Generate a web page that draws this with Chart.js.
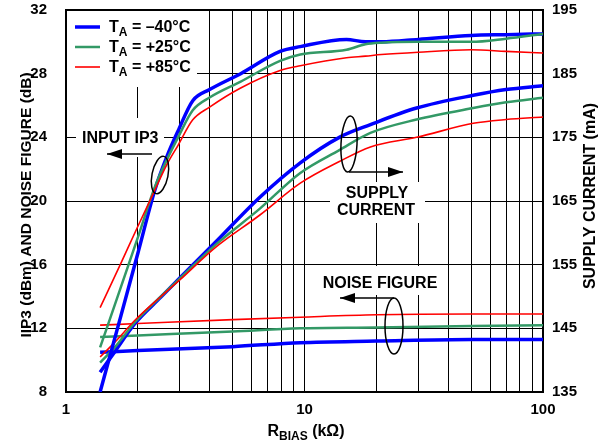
<!DOCTYPE html>
<html>
<head>
<meta charset="utf-8">
<script src="https://cdn.jsdelivr.net/npm/chart.js@4/dist/chart.umd.min.js"></script>
<style>
  html, body { margin: 0; padding: 0; background: #fff; }
  #wrap { width: 599px; height: 448px; }
</style>
</head>
<body>
<div id="wrap"><canvas id="myChart" width="599" height="448"></canvas></div>
<script>
// R_BIAS values (kOhm) where the curves were read
var ip3X = [1.39, 1.7, 2.0, 2.36, 2.65, 2.95, 3.4, 4.0, 5.4, 7.9, 9.6, 15, 18, 21, 30, 50, 70, 100];
var ip3Blue = [8.0, 12.8, 16.7, 20.7, 22.8, 24.4, 26.3, 27.0, 28.0, 29.4, 29.7, 30.15, 30.0, 30.0, 30.15, 30.4, 30.45, 30.5];
var ip3Green = [10.8, 14.6, 17.7, 20.9, 22.6, 24.0, 25.7, 26.5, 27.5, 28.8, 29.2, 29.5, 29.85, 29.95, 30.0, 30.0, 30.2, 30.5];
var ip3Red = [13.3, 16.1, 18.4, 20.7, 22.3, 23.5, 25.1, 25.9, 27.1, 28.2, 28.5, 29.0, 29.1, 29.2, 29.35, 29.5, 29.4, 29.3];

var supX = [1.39, 1.6, 1.95, 2.5, 3.0, 4.2, 6.5, 9.6, 14, 18.9, 29.5, 51, 70, 100];
var supBlue = [138.1, 141.3, 145.8, 149.9, 152.9, 158.4, 165.6, 171.0, 175.0, 177.0, 179.6, 181.6, 182.5, 183.1];
var supGreen = [139.6, 142.0, 146.0, 150.0, 152.8, 158.0, 163.8, 169.4, 173.0, 175.7, 177.8, 179.6, 180.5, 181.2];
var supRed = [140.5, 142.8, 146.3, 150.0, 152.6, 157.6, 162.8, 167.8, 171.2, 173.5, 175.0, 177.2, 177.8, 178.2];

var nfX = [1.39, 2, 5, 9.6, 20, 50, 100];
var nfBlue = [10.5, 10.6, 10.85, 11.1, 11.2, 11.3, 11.3];
var nfGreen = [11.45, 11.55, 11.8, 12.0, 12.05, 12.15, 12.2];
var nfRed = [12.2, 12.3, 12.55, 12.7, 12.85, 12.9, 12.9];

var xTicks = [1, 2, 3, 4, 5, 6, 7, 8, 9, 10, 20, 30, 40, 50, 60, 70, 80, 90, 100];
var yTicks = [8, 12, 16, 20, 24, 28, 32];
var y2Ticks = [135, 145, 155, 165, 175, 185, 195];

var temps = ['\u201340\u00B0C', '+25\u00B0C', '+85\u00B0C'];
var colors = ['#0000FF', '#339966', '#FF0000'];
var widths = [3.5, 2.5, 1.6];

var FONT = '"Liberation Sans", Arial, sans-serif';

function pts(xs, ys) {
  return xs.map(function (x, i) { return { x: x, y: ys[i] }; });
}

function series(xs, ys, k, axis) {
  return {
    data: pts(xs, ys),
    yAxisID: axis,
    borderColor: colors[k],
    borderWidth: widths[k],
    pointRadius: 0,
    fill: false,
    cubicInterpolationMode: 'monotone'
  };
}

// draw text made of pieces, some of them subscript
function richText(ctx, parts, x, y, size) {
  var cx = x;
  parts.forEach(function (p) {
    var s = p.sub ? Math.round(size * 0.72) : size;
    ctx.font = 'bold ' + s + 'px ' + FONT;
    ctx.fillText(p.t, cx, p.sub ? y + size * 0.28 : y);
    cx += ctx.measureText(p.t).width;
  });
  return cx - x;
}
function richWidth(ctx, parts, size) {
  var w = 0;
  parts.forEach(function (p) {
    var s = p.sub ? Math.round(size * 0.72) : size;
    ctx.font = 'bold ' + s + 'px ' + FONT;
    w += ctx.measureText(p.t).width;
  });
  return w;
}

function arrow(ctx, x1, y1, x2, y2) {
  ctx.beginPath();
  ctx.moveTo(x1, y1);
  ctx.lineTo(x2, y2);
  ctx.stroke();
  var dir = x2 > x1 ? -1 : 1;
  ctx.beginPath();
  ctx.moveTo(x2, y2);
  ctx.lineTo(x2 + dir * 15, y2 - 5);
  ctx.lineTo(x2 + dir * 15, y2 + 5);
  ctx.closePath();
  ctx.fill();
}

function ellipse(ctx, cx, cy, rx, ry, rot) {
  ctx.beginPath();
  ctx.ellipse(cx, cy, rx, ry, rot, 0, Math.PI * 2);
  ctx.stroke();
}

function noPad(scale) {
  scale.paddingTop = 0;
  scale.paddingBottom = 0;
  scale.paddingLeft = 0;
  scale.paddingRight = 0;
}

var annotations = {
  id: 'annotations',
  beforeDatasetsDraw: function (chart) {
    var ctx = chart.ctx;
    var a = chart.chartArea;
    ctx.save();
    // white boxes hiding the grid behind the labels
    ctx.fillStyle = '#fff';
    ctx.fillRect(a.left, a.top, 131, 77);
    ctx.fillRect(76, 118, 88, 39);
    ctx.fillRect(330, 182, 95, 41);
    ctx.fillRect(318, 266, 124, 29);
    // plot frame
    ctx.strokeStyle = '#000';
    ctx.lineWidth = 2;
    ctx.strokeRect(a.left, a.top, a.right - a.left, a.bottom - a.top);
    ctx.restore();
  },
  afterDraw: function (chart) {
    var ctx = chart.ctx;
    ctx.save();
    ctx.fillStyle = '#000';
    ctx.strokeStyle = '#000';
    ctx.textBaseline = 'alphabetic';

    // legend
    for (var k = 0; k < 3; k++) {
      var ry = 27 + k * 20;
      ctx.strokeStyle = colors[k];
      ctx.lineWidth = widths[k];
      ctx.beginPath();
      ctx.moveTo(75, ry);
      ctx.lineTo(100, ry);
      ctx.stroke();
      ctx.fillStyle = '#000';
      richText(ctx, [{ t: 'T' }, { t: 'A', sub: true }, { t: ' = ' + temps[k] }], 109, ry + 5, 16);
    }

    ctx.strokeStyle = '#000';
    ctx.fillStyle = '#000';
    ctx.lineWidth = 1.5;
    ctx.font = 'bold 16px ' + FONT;
    ctx.textAlign = 'left';
    ctx.fillText('INPUT IP3', 82, 143);
    arrow(ctx, 152, 154, 107, 154);
    ellipse(ctx, 160, 175, 8, 19, 0.2);

    ctx.textAlign = 'center';
    ctx.fillText('SUPPLY', 377, 198);
    ctx.fillText('CURRENT', 376, 215);
    ellipse(ctx, 349, 144, 8, 28, 0.05);
    arrow(ctx, 349, 172, 403, 172);

    ctx.fillText('NOISE FIGURE', 380, 288);
    arrow(ctx, 394, 298, 340, 298);
    ellipse(ctx, 394, 326, 9, 28, 0);

    // axis titles
    ctx.save();
    ctx.translate(27, 205);
    ctx.rotate(-Math.PI / 2);
    ctx.font = 'bold 15.5px ' + FONT;
    ctx.textAlign = 'center';
    ctx.textBaseline = 'middle';
    ctx.fillText('IIP3 (dBm) AND NOISE FIGURE (dB)', 0, 0);
    ctx.restore();

    ctx.save();
    ctx.translate(591, 196);
    ctx.rotate(-Math.PI / 2);
    ctx.font = 'bold 16px ' + FONT;
    ctx.textAlign = 'center';
    ctx.textBaseline = 'middle';
    ctx.fillText('SUPPLY CURRENT (mA)', 0, 0);
    ctx.restore();

    ctx.textAlign = 'left';
    var xt = [{ t: 'R' }, { t: 'BIAS', sub: true }, { t: ' (k\u03A9)' }];
    var w = richWidth(ctx, xt, 16);
    richText(ctx, xt, 306 - w / 2, 436, 16);
    ctx.restore();
  }
};

var ctx = document.getElementById('myChart');
var myChart = new Chart(ctx, {
  type: 'line',
  data: {
    datasets: [
      series(ip3X, ip3Red, 2, 'y'),
      series(ip3X, ip3Green, 1, 'y'),
      series(ip3X, ip3Blue, 0, 'y'),
      series(supX, supRed, 2, 'y2'),
      series(supX, supGreen, 1, 'y2'),
      series(supX, supBlue, 0, 'y2'),
      series(nfX, nfRed, 2, 'y'),
      series(nfX, nfGreen, 1, 'y'),
      series(nfX, nfBlue, 0, 'y')
    ]
  },
  options: {
    responsive: false,
    maintainAspectRatio: false,
    animation: false,
    layout: { padding: { top: 10, left: 0, right: 0, bottom: 0 } },
    plugins: { legend: { display: false }, tooltip: { enabled: false } },
    scales: {
      x: {
        type: 'logarithmic',
        min: 1,
        max: 100,
        afterBuildTicks: function (scale) {
          scale.ticks = xTicks.map(function (v) { return { value: v }; });
        },
        afterFit: function (scale) { scale.height = 56; noPad(scale); },
        ticks: {
          autoSkip: false,
          maxRotation: 0,
          padding: 9,
          color: '#000',
          font: { family: FONT, size: 15, weight: 'bold' },
          callback: function (v) { return (v === 1 || v === 10 || v === 100) ? String(v) : ''; }
        },
        grid: { color: '#000', lineWidth: 1, drawTicks: false },
        border: { display: false }
      },
      y: {
        position: 'left',
        min: 8,
        max: 32,
        afterBuildTicks: function (scale) {
          scale.ticks = yTicks.map(function (v) { return { value: v }; });
        },
        afterFit: function (scale) { scale.width = 66; noPad(scale); },
        ticks: {
          padding: 19,
          color: '#000',
          font: { family: FONT, size: 15, weight: 'bold' }
        },
        grid: { color: '#000', lineWidth: 1, drawTicks: false },
        border: { display: false }
      },
      y2: {
        position: 'right',
        min: 135,
        max: 195,
        afterBuildTicks: function (scale) {
          scale.ticks = y2Ticks.map(function (v) { return { value: v }; });
        },
        afterFit: function (scale) { scale.width = 56; noPad(scale); },
        ticks: {
          padding: 9,
          color: '#000',
          font: { family: FONT, size: 15, weight: 'bold' }
        },
        grid: { drawOnChartArea: false, drawTicks: false },
        border: { display: false }
      }
    }
  },
  plugins: [annotations]
});
</script>
</body>
</html>
